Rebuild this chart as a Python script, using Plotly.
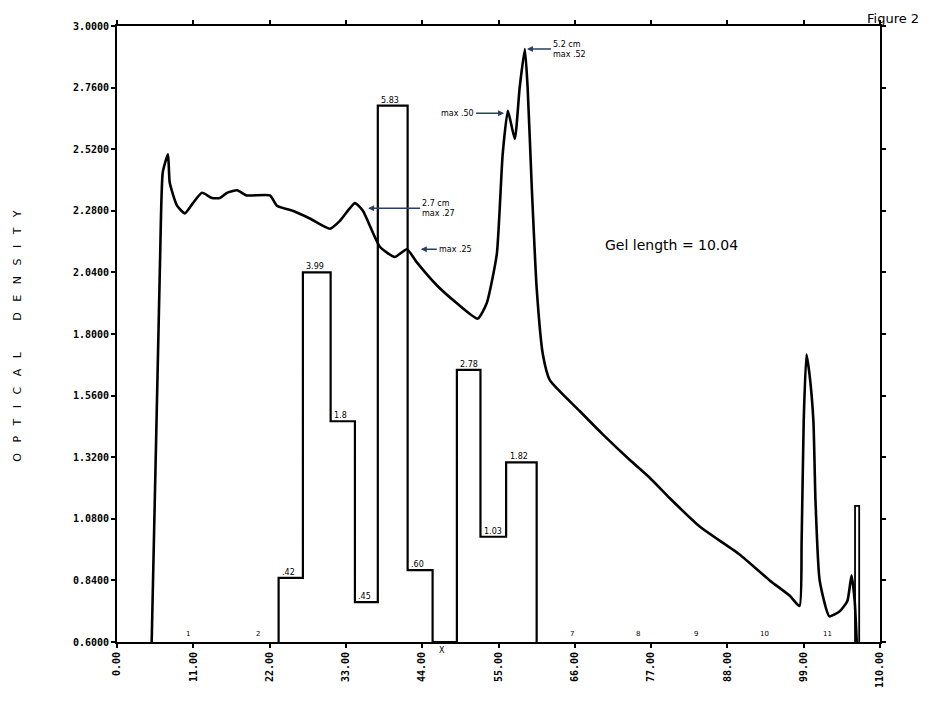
import plotly.graph_objects as go

# Optical density trace (x in gel units, y in OD)
curve_x = [5.0, 6.2, 6.6, 7.35, 7.6, 8.65, 9.8, 10.95, 12.25, 13.7, 14.85, 15.85, 17.3, 18.7,
           22.05, 23.05, 25.35, 27.8, 30.7, 32.1, 34.3, 35.45, 37.9, 40.05, 41.8, 43.2, 46.1,
           49.0, 52.0, 53.3, 54.75, 55.6, 56.35, 57.35, 58.05, 58.8, 59.2, 59.8, 60.5, 61.4,
           62.4, 66.7, 70.0, 73.9, 76.8, 79.7, 84.0, 89.8, 94.1, 97.0, 98.4, 98.7, 99.0, 99.4,
           99.85, 100.4, 100.7, 101.3, 102.7, 104.2, 105.3, 105.9, 106.35, 106.65]
curve_y = [0.60, 2.08, 2.43, 2.50, 2.39, 2.30, 2.27, 2.31, 2.35, 2.33, 2.33, 2.35, 2.36, 2.34,
           2.34, 2.30, 2.28, 2.25, 2.21, 2.24, 2.31, 2.28, 2.14, 2.10, 2.13, 2.08, 1.99,
           1.92, 1.86, 1.92, 2.11, 2.50, 2.67, 2.56, 2.76, 2.91, 2.76, 2.37, 1.98, 1.72,
           1.62, 1.50, 1.41, 1.31, 1.24, 1.16, 1.05, 0.94, 0.84, 0.78, 0.74, 0.99, 1.46, 1.72,
           1.64, 1.46, 1.15, 0.84, 0.70, 0.72, 0.76, 0.86, 0.76, 0.60]

# Histogram of slices (step outline)
hist_edges = [23.3, 26.8, 30.8, 34.3, 37.6, 41.9, 45.5, 49.0, 52.4, 56.1, 60.5]
hist_heights = [0.85, 2.04, 1.46, 0.755, 2.69, 0.88, 0.60, 1.66, 1.01, 1.30]
hist_labels = [".42", "3.99", "1.8", ".45", "5.83", ".60", "", "2.78", "1.03", "1.82"]
base = 0.6

# small end bar
end_bar_x = [106.4, 106.4, 107.0, 107.0]
end_bar_y = [0.6, 1.13, 1.13, 0.6]

# slice numbers along the baseline
slice_x = [10.2, 20.3, 65.6, 75.1, 83.5, 93.3, 102.5]
slice_text = ["1", "2", "7", "8", "9", "10", "11"]

y_ticks = [0.60, 0.84, 1.08, 1.32, 1.56, 1.80, 2.04, 2.28, 2.52, 2.76, 3.00]
x_ticks = [0, 11, 22, 33, 44, 55, 66, 77, 88, 99, 110]

hx = [hist_edges[0]] + hist_edges[:-1] + [hist_edges[-1]]
hy = [base] + hist_heights + [base]

fig = go.Figure()
fig.add_trace(go.Scatter(x=hx, y=hy, mode="lines", line=dict(color="black", width=2.2, shape="hv"),
                         hoverinfo="skip", showlegend=False))
fig.add_trace(go.Scatter(x=end_bar_x, y=end_bar_y, mode="lines", line=dict(color="black", width=1.8),
                         hoverinfo="skip", showlegend=False))
fig.add_trace(go.Scatter(x=curve_x, y=curve_y, mode="lines", line=dict(color="black", width=2.6, shape="spline", smoothing=0.5),
                         hoverinfo="skip", showlegend=False))

hand = dict(family="DejaVu Sans", color="black")
ann = []
for i, lab in enumerate(hist_labels):
    if lab:
        ann.append(dict(x=hist_edges[i] + 0.2, y=hist_heights[i], text=lab, showarrow=False,
                        xanchor="left", yanchor="bottom", font=dict(size=8, **hand), yshift=-1))
for sx, st in zip(slice_x, slice_text):
    ann.append(dict(x=sx, y=base, text=st, showarrow=False, xanchor="center", yanchor="bottom", yshift=2,
                    font=dict(size=7, **hand)))
ann.append(dict(x=46.8, y=-0.025, yref="paper", text="X", showarrow=False, xanchor="center",
                font=dict(size=8, **hand)))

ytitle = "\u00a0\u00a0\u00a0".join("OPTICAL") + "\u00a0" * 9 + "\u00a0\u00a0\u00a0".join("DENSITY")
ann += [
    dict(x=1.017, y=1.012, xref="paper", yref="paper", text="Figure 2", showarrow=False,
         xanchor="center", yanchor="middle", font=dict(size=13, **hand)),
    dict(x=80.0, y=2.146, text="Gel length = 10.04", showarrow=False, xanchor="center",
         font=dict(size=14, **hand)),
    dict(x=59.1, y=2.91, text="5.2 cm<br>max .52", showarrow=True, ax=24, ay=0, xanchor="left",
         arrowhead=2, arrowsize=0.8, arrowwidth=1.5, font=dict(size=8, **hand), align="left"),
    dict(x=55.8, y=2.66, text="max .50", showarrow=True, ax=-28, ay=0, xanchor="right",
         arrowhead=2, arrowsize=0.8, arrowwidth=1.5, font=dict(size=8, **hand)),
    dict(x=36.2, y=2.29, text="2.7 cm<br>max .27", showarrow=True, ax=52, ay=0, xanchor="left",
         arrowhead=2, arrowsize=0.8, arrowwidth=1.5, font=dict(size=8, **hand), align="left"),
    dict(x=43.8, y=2.13, text="max .25", showarrow=True, ax=16, ay=0, xanchor="left",
         arrowhead=2, arrowsize=0.8, arrowwidth=1.5, font=dict(size=8, **hand)),
    dict(x=-0.13, y=0.497, xref="paper", yref="paper", text=ytitle, xanchor="center", yanchor="middle",
         textangle=-90, showarrow=False, font=dict(size=11, **hand)),
]

tickfont = dict(family="DejaVu Sans Mono", size=10, color="black", weight="bold")
fig.update_layout(
    width=929, height=721,
    margin=dict(l=109, r=57, t=16, b=87),
    paper_bgcolor="white", plot_bgcolor="white",
    annotations=ann,
    xaxis=dict(range=[0, 110], tickvals=x_ticks, tickformat=".2f", tickangle=-90,
               showgrid=False, zeroline=False, showline=True, linecolor="black", linewidth=1.8,
               mirror="allticks", ticks="outside", ticklen=4, tickwidth=2, tickcolor="black",
               tickfont=tickfont),
    yaxis=dict(range=[0.6, 3.0], tickvals=y_ticks, tickformat=".4f",
               showgrid=False, zeroline=False, showline=True, linecolor="black", linewidth=1.8,
               mirror="allticks", ticks="outside", ticklen=4, tickwidth=2, tickcolor="black",
               tickfont=tickfont),
)
fig.write_html("out.html")
